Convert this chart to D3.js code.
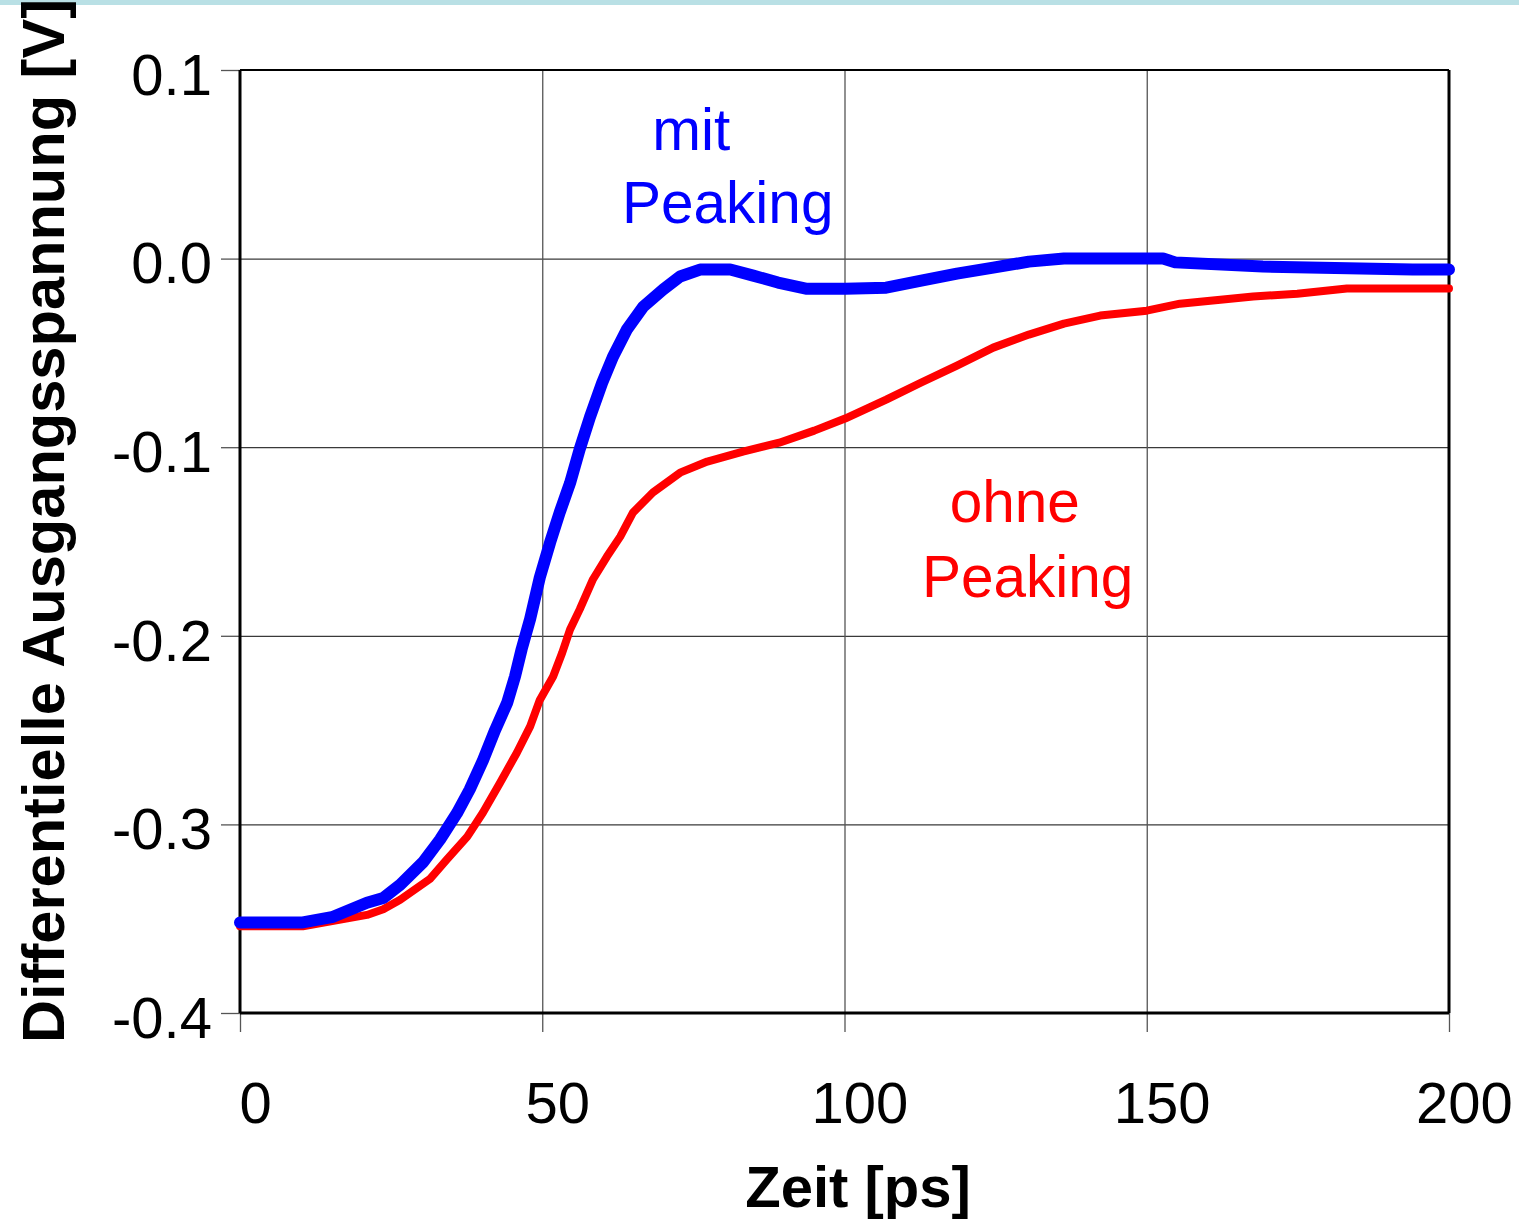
<!DOCTYPE html>
<html>
<head>
<meta charset="utf-8">
<script src="https://cdn.jsdelivr.net/npm/d3@7"></script>
<style>
  html, body { margin: 0; padding: 0; background: #fff; }
  svg { display: block; }
  text { font-family: "Liberation Sans", Arial, sans-serif; }
</style>
</head>
<body>
<script>
// Zeit in ps, Spannung in V
const timeMit = [0, 10.4, 15.4, 21.0, 23.7, 26.5, 30.3, 33.1, 35.9, 38.0, 40.2, 42.2, 44.2, 45.5, 46.6, 48.0, 49.6, 51.3, 52.9, 54.6, 56.2, 57.9, 59.9, 61.7, 64.0, 66.7, 70.0, 72.8, 76.1, 81.1, 84.9, 89.0, 93.8, 100.1, 106.9, 112.7, 118.6, 124.6, 130.5, 136.3, 152.7, 154.7, 169.2, 194.0, 200];
const voltMit = [-0.352, -0.352, -0.349, -0.3415, -0.339, -0.332, -0.320, -0.308, -0.294, -0.2815, -0.266, -0.250, -0.2355, -0.2215, -0.207, -0.191, -0.169, -0.1505, -0.1345, -0.119, -0.101, -0.084, -0.066, -0.052, -0.0376, -0.0255, -0.0164, -0.0095, -0.0058, -0.0058, -0.009, -0.0127, -0.016, -0.016, -0.0154, -0.0117, -0.008, -0.0048, -0.0016, 0.0, 0.0, -0.002, -0.0042, -0.0058, -0.0058];

const timeOhne = [0, 10.4, 21.0, 23.7, 26.5, 31.4, 34.2, 37.6, 40.2, 43.0, 45.8, 48.0, 49.6, 51.8, 53.3, 54.6, 56.2, 58.4, 60.7, 62.9, 65.0, 68.3, 72.8, 77.3, 83.2, 89.2, 95.0, 100.1, 106.9, 112.7, 118.6, 124.6, 130.5, 136.3, 142.3, 150.0, 155.5, 167.6, 174.9, 183.1, 200];
const voltOhne = [-0.354, -0.354, -0.348, -0.345, -0.340, -0.329, -0.3187, -0.3065, -0.2937, -0.278, -0.262, -0.248, -0.234, -0.2216, -0.209, -0.1967, -0.186, -0.170, -0.158, -0.1474, -0.1347, -0.124, -0.1135, -0.1076, -0.1023, -0.0976, -0.0912, -0.0848, -0.0748, -0.0657, -0.0567, -0.0472, -0.0403, -0.0345, -0.0302, -0.0276, -0.0239, -0.0201, -0.0186, -0.0159, -0.0159];

const xTicks = [0, 50, 100, 150, 200];
const xTickLabels = ["0", "50", "100", "150", "200"];
const yTicks = [0.1, 0.0, -0.1, -0.2, -0.3, -0.4];
const yTickLabels = ["0.1", "0.0", "-0.1", "-0.2", "-0.3", "-0.4"];

const seriesNames = ["mit Peaking", "ohne Peaking"];
const xTitle = "Zeit [ps]";
const yTitle = "Differentielle Ausgangsspannung [V]";

const W = 1519, H = 1219;
const margin = { left: 240, top: 70, right: 70, bottom: 206 };
const plotW = W - margin.left - margin.right;   // 1209
const plotH = H - margin.top - margin.bottom;   // 943

const svg = d3.select("body").append("svg")
  .attr("width", W).attr("height", H);

// schmale Leiste am oberen Rand
svg.append("rect").attr("x", 0).attr("y", 0).attr("width", W).attr("height", 5)
  .attr("fill", "#b9e0e5");

const x = d3.scaleLinear().domain([0, 200]).range([0, plotW]);
const y = d3.scaleLinear().domain([-0.4, 0.1]).range([plotH, 0]);

const g = svg.append("g").attr("transform", `translate(${margin.left},${margin.top})`);

// Gitterlinien
g.append("g")
  .attr("class", "grid-y")
  .call(d3.axisLeft(y).tickValues(yTicks.slice(1, -1)).tickSize(-plotW).tickFormat(""))
  .call(s => s.select(".domain").remove())
  .call(s => s.selectAll("line").attr("stroke", "#3a3a3a").attr("stroke-width", 1.2));

g.append("g")
  .attr("class", "grid-x")
  .attr("transform", `translate(0,${plotH})`)
  .call(d3.axisBottom(x).tickValues(xTicks.slice(1, -1)).tickSize(-plotH).tickFormat(""))
  .call(s => s.select(".domain").remove())
  .call(s => s.selectAll("line").attr("stroke", "#555").attr("stroke-width", 1.3));

// Achsen mit nach aussen weisenden Strichen
const yAxis = g.append("g")
  .call(d3.axisLeft(y).tickValues(yTicks).tickSize(19).tickPadding(10)
    .tickFormat((d, i) => yTickLabels[i]));
yAxis.select(".domain").remove();
yAxis.selectAll("line").attr("stroke", "#555").attr("stroke-width", 1.3);
yAxis.selectAll("text")
  .attr("font-size", 58).attr("fill", "#000")
  .attr("dy", "0.42em").attr("x", -28);

const xAxis = g.append("g").attr("transform", `translate(0,${plotH})`)
  .call(d3.axisBottom(x).tickValues(xTicks).tickSize(19).tickPadding(10)
    .tickFormat((d, i) => xTickLabels[i]));
xAxis.select(".domain").remove();
xAxis.selectAll("line").attr("stroke", "#555").attr("stroke-width", 1.3);
xAxis.selectAll("text")
  .attr("font-size", 58).attr("fill", "#000")
  .attr("dx", 15).attr("y", 69).attr("dy", "0.71em");

// Rahmen
g.append("line").attr("x1", 0).attr("x2", plotW).attr("y1", 0).attr("y2", 0)
  .attr("stroke", "#000").attr("stroke-width", 2);
g.append("line").attr("x1", 0).attr("x2", 0).attr("y1", 0).attr("y2", plotH)
  .attr("stroke", "#000").attr("stroke-width", 3);
g.append("line").attr("x1", plotW).attr("x2", plotW).attr("y1", 0).attr("y2", plotH)
  .attr("stroke", "#000").attr("stroke-width", 3);
g.append("line").attr("x1", 0).attr("x2", plotW).attr("y1", plotH).attr("y2", plotH)
  .attr("stroke", "#000").attr("stroke-width", 3);

// Messkurven
const line = d3.line().x(d => x(d[0])).y(d => y(d[1]));
const ohne = d3.zip(timeOhne, voltOhne);
const mit = d3.zip(timeMit, voltMit);

g.append("path").datum(ohne)
  .attr("d", line).attr("fill", "none")
  .attr("stroke", "#ff0000").attr("stroke-width", 8)
  .attr("stroke-linejoin", "round").attr("stroke-linecap", "round");

g.append("path").datum(mit)
  .attr("d", line).attr("fill", "none")
  .attr("stroke", "#0000ff").attr("stroke-width", 12)
  .attr("stroke-linejoin", "round").attr("stroke-linecap", "round");

// Beschriftung der Kurven
const labelMit = g.append("text").attr("fill", "#0000ff").attr("font-size", 58.5);
labelMit.append("tspan").attr("x", x(68.2)).attr("y", y(0.0578)).text("mit");
labelMit.append("tspan").attr("x", x(63.2)).attr("y", y(0.0191)).text("Peaking");

const labelOhne = g.append("text").attr("fill", "#ff0000").attr("font-size", 58.5);
labelOhne.append("tspan").attr("x", x(117.4)).attr("y", y(-0.1399)).text("ohne");
labelOhne.append("tspan").attr("x", x(112.8)).attr("y", y(-0.1792)).text("Peaking");

// Achsentitel
svg.append("text")
  .attr("x", 858).attr("y", 1207)
  .attr("text-anchor", "middle")
  .attr("font-size", 58).attr("font-weight", "bold")
  .text(xTitle);

svg.append("text")
  .attr("transform", "translate(64,521) rotate(-90)")
  .attr("text-anchor", "middle")
  .attr("font-size", 59.6).attr("font-weight", "bold")
  .text(yTitle);
</script>
</body>
</html>
